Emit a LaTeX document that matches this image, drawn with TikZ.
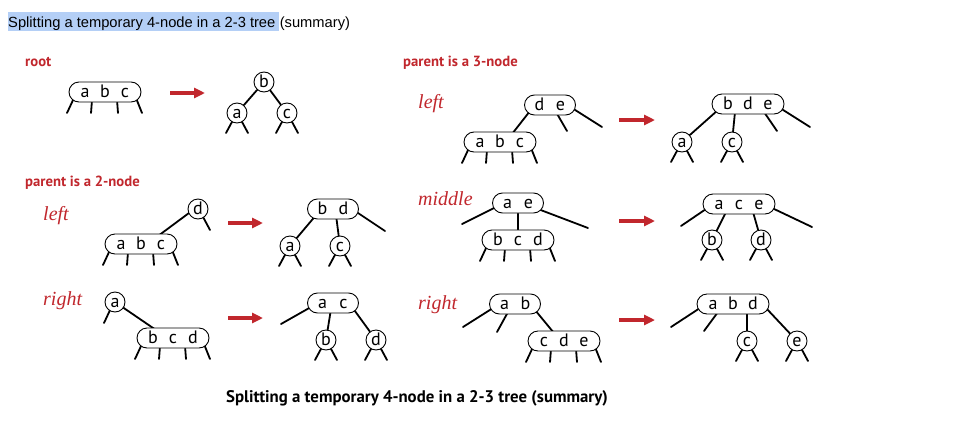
\documentclass[tikz,border=0pt]{standalone}
\usepackage{fontspec}
\newfontfamily\titlefont{Liberation Sans}
\newfontfamily\keyfont{PT Sans}
\newfontfamily\casefont{Liberation Serif}
\usetikzlibrary{calc,shapes.misc,arrows.meta,backgrounds}
\definecolor{sred}{RGB}{193,39,45}
\definecolor{hl}{RGB}{180,207,246}
\newcommand\kk[1]{\makebox[20pt]{#1}}
\newcommand\kt[1]{\makebox[21pt]{#1}}
\newcommand\legsthree[1]{%
  \draw[leg] ($(#1)+(-31,6)$) -- ($(#1)+(-38,21)$);
  \draw[leg] ($(#1)+(-13,8)$) -- ($(#1)+(-14,21)$);
  \draw[leg] ($(#1)+(12,8)$) -- ($(#1)+(13,21)$);
  \draw[leg] ($(#1)+(31,6)$) -- ($(#1)+(37,21)$);}
\newcommand\legsc[1]{%
  \draw[leg] ($(#1)+(-4,7)$) -- ($(#1)+(-11,20)$);
  \draw[leg] ($(#1)+(4,7)$) -- ($(#1)+(11,20)$);}
\begin{document}
\begin{tikzpicture}[x=1pt,y=-1pt,
  key/.style={draw, line width=0.9pt, fill=white, rounded rectangle, minimum height=20pt,
    inner sep=0pt, text height=11.5pt, text depth=1pt, font=\keyfont\fontsize{18}{18}\selectfont},
  kthree/.style={key, minimum width=72pt},
  ktwo/.style={key, minimum width=51pt},
  circ/.style={draw, line width=0.9pt, fill=white, circle, minimum size=20pt, inner sep=0pt,
    text height=11.5pt, text depth=1pt, font=\keyfont\fontsize{18}{18}\selectfont},
  leg/.style={line width=1.8pt, line cap=round},
  splitarrow/.style={draw=sred, line width=3.5pt, -{Triangle[length=11pt,width=10pt]}},
  redhead/.style={text=sred, font=\keyfont\bfseries\fontsize{14.7}{16}\selectfont, anchor=base west, inner sep=0pt},
  casel/.style={text=sred, font=\casefont\itshape\fontsize{20}{22}\selectfont, anchor=base west, inner sep=0pt},
  titlef/.style={font=\titlefont\fontsize{14.7}{16}\selectfont}]
\useasboundingbox (0,0) rectangle (968,434);

% title
\node[titlef, fill=hl, anchor=base west, inner xsep=0pt, inner ysep=0pt, text height=15pt, text depth=4pt]
  (title) at (8,27) {Splitting a temporary 4-node in a 2-3 tree\hspace*{4pt}};
\node[titlef, anchor=base west, inner sep=0pt] (titlesum) at (title.base east) {(summary)};

% headings
\node[redhead] (lroot) at (25,66) {root};
\node[redhead] (lp3) at (403,66) {parent is a 3-node};
\node[redhead] (lp2) at (25,186) {parent is a 2-node};
\node[casel] (c2l) at (43,220) {left};
\node[casel] (c2r) at (43,305) {right};
\node[casel] (c3l) at (418,108) {left};
\node[casel] (c3m) at (418,205) {middle};
\node[casel] (c3r) at (418,309) {right};
\node[anchor=base, inner sep=0pt, font=\keyfont\bfseries\fontsize{16.8}{18}\selectfont] (caption) at (417,402)
  {Splitting a temporary 4-node in a 2-3 tree (summary)};

% root
\node[kthree] (rabc) at (105,92) {\kk a\kk b\kk c};
\node[circ] (rb) at (264,82) {b};
\node[circ] (ra) at (237,113) {a};
\node[circ] (rc) at (287,113) {c};
\coordinate (ar1s) at (170,93); \coordinate (ar1e) at (205,93);

% parent 2-node left
\node[circ] (p2ld) at (198,209) {d};
\node[kthree] (p2labc) at (141,244) {\kk a\kk b\kk c};
\node[ktwo] (p2lbd) at (333,209) {\kt b\kt d};
\node[circ] (p2la) at (290,246) {a};
\node[circ] (p2lc) at (340,246) {c};
\coordinate (ar2s) at (228,223); \coordinate (ar2e) at (263,223);

% parent 2-node right
\node[circ] (p2ra) at (115,302) {a};
\node[kthree] (p2rbcd) at (173,338) {\kk b\kk c\kk d};
\node[ktwo] (p2rac) at (333,303) {\kt a\kt c};
\node[circ] (p2rb) at (326,340) {b};
\node[circ] (p2rd) at (376,340) {d};
\coordinate (ar3s) at (228,318); \coordinate (ar3e) at (263,318);

% parent 3-node left
\node[ktwo] (p3lde) at (550,105) {\kt d\kt e};
\node[kthree] (p3labc) at (500,142) {\kk a\kk b\kk c};
\node[kthree] (p3lbde) at (748,104) {\kk b\kk d\kk e};
\node[circ] (p3la) at (682,142) {a};
\node[circ] (p3lc) at (732,142) {c};
\coordinate (ar4s) at (619,120); \coordinate (ar4e) at (655,120);

% parent 3-node middle
\node[ktwo] (p3mae) at (518,203) {\kt a\kt e};
\node[kthree] (p3mbcd) at (518,240) {\kk b\kk c\kk d};
\node[kthree] (p3mace) at (739,204) {\kk a\kk c\kk e};
\node[circ] (p3mb) at (712,240) {b};
\node[circ] (p3md) at (761,240) {d};
\coordinate (ar5s) at (619,221); \coordinate (ar5e) at (655,221);

% parent 3-node right
\node[ktwo] (p3rab) at (515,304) {\kt a\kt b};
\node[kthree] (p3rcde) at (564,341) {\kk c\kk d\kk e};
\node[kthree] (p3rabd) at (733,304) {\kk a\kk b\kk d};
\node[circ] (p3rc) at (747,341) {c};
\node[circ] (p3re) at (797,341) {e};
\coordinate (ar6s) at (619,320); \coordinate (ar6e) at (655,320);

\foreach \i in {1,...,6} {\draw[splitarrow] (ar\i s) -- (ar\i e);}

\begin{scope}[on background layer]
  \fill[white] (0,0) rectangle (968,434);
  % root
  \legsthree{rabc}
  \draw[leg] (rb) -- (ra);
  \draw[leg] (rb) -- (rc);
  \legsc{ra}\legsc{rc}
  % p2 left
  \draw[leg] ($(p2ld)+(-9,4)$) -- ($(p2labc)+(17,-8)$);
  \draw[leg] ($(p2ld)+(4,6)$) -- ($(p2ld)+(12,21)$);
  \legsthree{p2labc}
  \draw[leg] ($(p2lbd)+(-16,5)$) -- (p2la);
  \draw[leg] ($(p2lbd)+(3,6)$) -- (p2lc);
  \draw[leg] ($(p2lbd)+(22,2)$) -- ($(p2lbd)+(52,22)$);
  \legsc{p2la}\legsc{p2lc}
  % p2 right
  \draw[leg] ($(p2ra)+(-4,6)$) -- ($(p2ra)+(-11,21)$);
  \draw[leg] (p2ra) -- ($(p2rbcd)+(-17,-8)$);
  \legsthree{p2rbcd}
  \draw[leg] ($(p2rac)+(-22,4)$) -- ($(p2rac)+(-52,21)$);
  \draw[leg] ($(p2rac)+(-2,6)$) -- (p2rb);
  \draw[leg] ($(p2rac)+(19,4)$) -- (p2rd);
  \legsc{p2rb}\legsc{p2rd}
  % p3 left
  \draw[leg] ($(p3lde)+(-20,6)$) -- ($(p3labc)+(12,-8)$);
  \draw[leg] ($(p3lde)+(6,7)$) -- ($(p3lde)+(17,26)$);
  \draw[leg] ($(p3lde)+(22,3)$) -- ($(p3lde)+(52,22)$);
  \legsthree{p3labc}
  \draw[leg] ($(p3lbde)+(-30,6)$) -- (p3la);
  \draw[leg] ($(p3lbde)+(-13,8)$) -- (p3lc);
  \draw[leg] ($(p3lbde)+(16,8)$) -- ($(p3lbde)+(29,27)$);
  \draw[leg] ($(p3lbde)+(32,4)$) -- ($(p3lbde)+(62,23)$);
  \legsc{p3la}\legsc{p3lc}
  % p3 middle
  \draw[leg] ($(p3mae)+(-22,4)$) -- ($(p3mae)+(-56,21)$);
  \draw[leg] ($(p3mae)+(20,6)$) -- ($(p3mae)+(70,25)$);
  \draw[leg] (p3mae) -- (p3mbcd);
  \legsthree{p3mbcd}
  \draw[leg] ($(p3mace)+(-33,5)$) -- ($(p3mace)+(-58,22)$);
  \draw[leg] ($(p3mace)+(33,4)$) -- ($(p3mace)+(73,23)$);
  \draw[leg] ($(p3mace)+(-13,8)$) -- (p3mb);
  \draw[leg] ($(p3mace)+(14,8)$) -- (p3md);
  \legsc{p3mb}\legsc{p3md}
  % p3 right
  \draw[leg] ($(p3rab)+(-22,4)$) -- ($(p3rab)+(-52,23)$);
  \draw[leg] ($(p3rab)+(-7,8)$) -- ($(p3rab)+(-18,28)$);
  \draw[leg] ($(p3rab)+(20,6)$) -- ($(p3rcde)+(-10,-8)$);
  \legsthree{p3rcde}
  \draw[leg] ($(p3rabd)+(-33,4)$) -- ($(p3rabd)+(-62,23)$);
  \draw[leg] ($(p3rabd)+(-15,8)$) -- ($(p3rabd)+(-29,27)$);
  \draw[leg] ($(p3rabd)+(14,8)$) -- (p3rc);
  \draw[leg] ($(p3rabd)+(33,4)$) -- (p3re);
  \legsc{p3rc}\legsc{p3re}
\end{scope}
\end{tikzpicture}
\end{document}
